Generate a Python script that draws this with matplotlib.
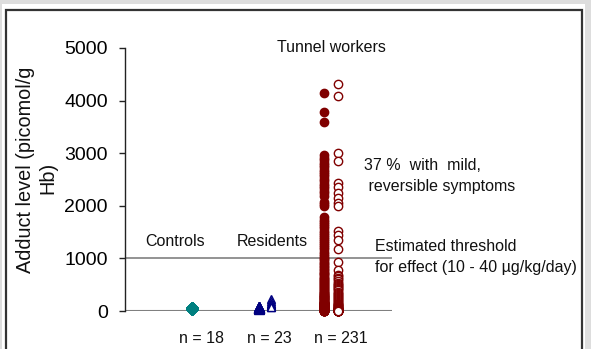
import matplotlib
matplotlib.use("Agg")
import matplotlib.pyplot as plt
from matplotlib.patches import Rectangle

plt.rcParams['font.family'] = ['Liberation Sans', 'DejaVu Sans']

# Adduct levels (picomol/g Hb) per group
controls = [65, 62, 60, 60, 58, 56, 55, 55, 54, 52, 50, 50, 48, 47, 45, 45, 44, 42]
residents_filled = [80, 75, 72, 70, 68, 65, 62, 60, 58, 55, 55, 52, 50, 48, 45]
residents_open = [220, 190, 160, 140, 120, 100, 85, 70]
tunnel_filled = [
    4150, 3790, 3590,
    2960, 2910, 2870, 2820, 2780, 2730, 2690, 2640, 2600, 2560, 2510, 2470,
    2420, 2380, 2330, 2290, 2240, 2190,
    2080, 2030, 1990,
    1780, 1730, 1690, 1650, 1610, 1570, 1530, 1490, 1450, 1410, 1370, 1330,
    1290, 1250, 1210, 1170, 1130, 1090, 1050, 1010,
    980, 950, 920, 890, 860, 830, 800, 780, 750, 720,
    700, 680, 650, 630, 610, 590, 570, 550, 530, 510,
    490, 470, 450, 430, 420, 400, 380, 370, 350, 340,
    320, 310, 300, 290, 280, 270, 260, 250, 240, 230,
    220, 210, 200, 190, 180, 175, 170, 160, 155, 150,
    145, 140, 130, 125, 120, 115, 110, 105, 100, 95,
    90, 85, 80, 75, 70, 65, 60, 58, 55, 52,
    50, 48, 45, 42, 40, 38, 35, 32, 30, 28,
    25, 22, 20, 18, 15, 12, 10, 8, 6, 5, 4, 3, 2, 1, 1,
]
tunnel_open = [
    4310, 4080, 3010, 2850, 2440, 2360, 2240, 2150, 2050, 2000,
    1530, 1450, 1350, 1180, 930, 780,
    690, 660, 630, 600, 570, 540, 510, 490, 470, 450,
    430, 410, 390, 370, 350, 330, 310, 290, 270, 250,
    230, 210, 190, 170, 150, 140, 130, 120, 110, 100,
    90, 80, 70, 60, 55, 50, 45, 40, 35, 30,
    25, 20, 18, 15, 12, 10, 8, 6, 5, 4,
    3, 2, 1, 1, 0, 0, 0, 0, 0, 0, 0, 0, 0, 0, 0,
]
threshold = 1000
group_n = ["n = 18", "n = 23", "n = 231"]

W, H = 591, 349
fig = plt.figure(figsize=(W / 100, H / 100), dpi=100)
fig.patch.set_facecolor('#dddddd')

# white panel with a dark frame
fig.add_artist(Rectangle((2 / W, 0), (585 - 2) / W, (H - 4) / H, transform=fig.transFigure,
                         facecolor='white', edgecolor='none', zorder=0))
fig.add_artist(Rectangle((5.5 / W, -0.05), (582 - 5.5) / W, (H - 10) / H + 0.05,
                         transform=fig.transFigure, facecolor='none',
                         edgecolor='#333333', lw=1.6, zorder=1))

ax = fig.add_axes([125 / W, 38 / H, (392 - 125) / W, (311 - 48) / H])
ax.set_facecolor('none')
ax.set_xlim(0, 4)
ax.set_ylim(0, 5000)

kw = dict(linestyle='none', clip_on=False, zorder=3)
ax.plot([1] * len(controls), controls, marker='D', ms=6, color='#008080', **kw)
ax.plot([2] * len(residents_filled), residents_filled, marker='^', ms=7.5, color='#000080', **kw)
ax.plot([2.19] * len(residents_open), residents_open, marker='^', ms=6, mfc='white',
        mec='#000080', mew=1, **kw)
ax.plot([2.98] * len(tunnel_filled), tunnel_filled, marker='o', ms=6, color='#800000', **kw)
ax.plot([3.19] * len(tunnel_open), tunnel_open, marker='o', ms=6, mfc='white',
        mec='#800000', mew=1, **kw)

ax.axhline(0, color='#808080', lw=1.5, zorder=2)
ax.axhline(threshold, color='#808080', lw=1.2, zorder=2)

for s in ['top', 'right', 'bottom']:
    ax.spines[s].set_visible(False)
ax.spines['left'].set_color('#222222')
ax.spines['left'].set_linewidth(1)
ax.set_xticks([])
ax.set_yticks([0, 1000, 2000, 3000, 4000, 5000])
ax.tick_params(axis='y', direction='out', length=4.5, width=1, color='#222222',
               labelsize=14, pad=8)

tk = dict(fontsize=11.5, color='#111111')
ax.text(3.09, 5000, "Tunnel workers", ha='center', va='center', **tk)
ax.text(0.75, 1330, "Controls", ha='center', va='center', **tk)
ax.text(2.2, 1330, "Residents", ha='center', va='center', **tk)
ax.text(3.58, 2760, "37 %  with  mild,", ha='left', va='center', **tk)
ax.text(3.58, 2360, " reversible symptoms", ha='left', va='center', **tk)
ax.text(3.745, 1220, "Estimated threshold", ha='left', va='center', **tk)
ax.text(3.745, 820, "for effect (10 - 40 \u00b5g/kg/day)", ha='left', va='center', **tk)
for x, lab in zip([1.14, 2.17, 3.24], group_n):
    ax.text(x, -520, lab, ha='center', va='center', **tk)

fig.text(26 / W, 1 - 170 / H, "Adduct level (picomol/g", rotation=90,
         ha='center', va='center', fontsize=14.3, color='#111111')
fig.text(48 / W, 1 - 178 / H, "Hb)", rotation=90,
         ha='center', va='center', fontsize=14.3, color='#111111')

fig.savefig('out.png', dpi=100, facecolor=fig.get_facecolor())
